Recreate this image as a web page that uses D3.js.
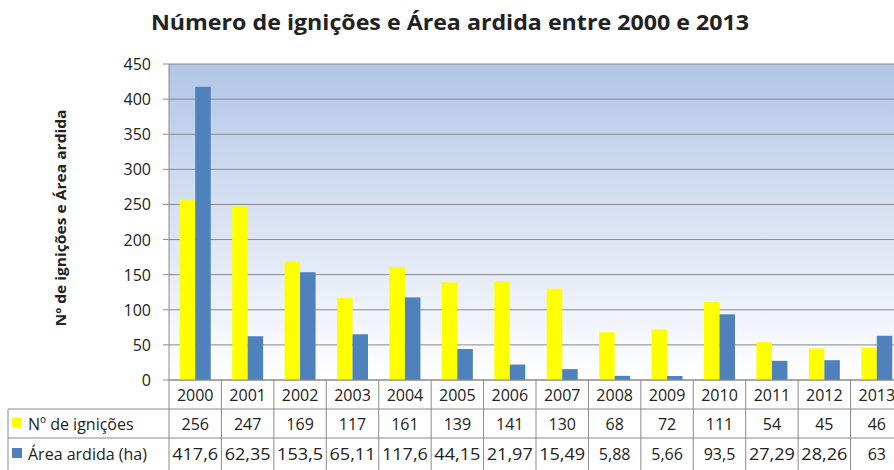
<!DOCTYPE html>
<html>
<head>
<meta charset="utf-8">
<script src="https://cdn.jsdelivr.net/npm/d3@7"></script>
<style>
  body { margin: 0; background: #fff; }
  text { font-family: "Open Sans", "Noto Sans", sans-serif; fill: #222; }
</style>
</head>
<body>
<svg></svg>
<script>
var years = ['2000','2001','2002','2003','2004','2005','2006','2007','2008','2009','2010','2011','2012','2013'];
var ignicoes = [256, 247, 169, 117, 161, 139, 141, 130, 68, 72, 111, 54, 45, 46];
var area = [417.6, 62.35, 153.5, 65.11, 117.6, 44.15, 21.97, 15.49, 5.88, 5.66, 93.5, 27.29, 28.26, 63];
var yTicks = [0, 50, 100, 150, 200, 250, 300, 350, 400, 450];
var seriesNames = ['Nº de ignições', 'Área ardida (ha)'];
var seriesColors = ['#ffff00', '#4f81bd'];

var W = 894, H = 470;
var svg = d3.select('svg').attr('width', W).attr('height', H);

var plotLeft = 169, plotRight = 903, plotTop = 64, plotBottom = 380;
function fmt(v) { return String(v).replace('.', ','); }

var x = d3.scaleBand().domain(years).range([plotLeft, plotRight]);
var y = d3.scaleLinear().domain([0, 450]).range([plotBottom, plotTop]);

var defs = svg.append('defs');
var grad = defs.append('linearGradient').attr('id', 'bg')
    .attr('x1', 0).attr('y1', 0).attr('x2', 0).attr('y2', 1);
grad.append('stop').attr('offset', '0%').attr('stop-color', '#b3c6e7');
grad.append('stop').attr('offset', '100%').attr('stop-color', '#ffffff');

svg.append('rect')
    .attr('x', plotLeft).attr('y', plotTop)
    .attr('width', plotRight - plotLeft).attr('height', plotBottom - plotTop)
    .attr('fill', 'url(#bg)');

// grid
svg.selectAll('.grid').data(yTicks).enter().append('line')
    .attr('x1', plotLeft - 6).attr('x2', plotRight)
    .attr('y1', function(d) { return y(d); }).attr('y2', function(d) { return y(d); })
    .attr('stroke', '#8a8a8a').attr('stroke-width', 1);

svg.append('line').attr('x1', plotLeft).attr('x2', plotLeft).attr('y1', plotTop).attr('y2', plotBottom)
    .attr('stroke', '#8a8a8a');

svg.selectAll('.ytick').data(yTicks).enter().append('text')
    .attr('x', 151).attr('y', function(d) { return y(d) + 6; })
    .attr('text-anchor', 'end').attr('font-size', 16)
    .text(function(d) { return d; });

// bars
var bw = 15.5;
var series = [ignicoes, area];
series.forEach(function(vals, si) {
    svg.selectAll('.bar' + si).data(vals).enter().append('rect')
        .attr('x', function(d, i) { return x(years[i]) + x.bandwidth() / 2 - bw + si * bw; })
        .attr('y', function(d) { return y(d); })
        .attr('width', bw)
        .attr('height', function(d) { return plotBottom - y(d); })
        .attr('fill', seriesColors[si]);
});

// title
svg.append('text')
    .attr('x', 450).attr('y', 30)
    .attr('text-anchor', 'middle')
    .attr('font-size', 21).attr('font-weight', 'bold')
    .attr('textLength', 598).attr('lengthAdjust', 'spacingAndGlyphs')
    .text('Número de ignições e Área ardida entre 2000 e 2013');

// y label
svg.append('text')
    .attr('transform', 'translate(66,218) rotate(-90)')
    .attr('text-anchor', 'middle')
    .attr('font-size', 14).attr('font-weight', 'bold')
    .attr('textLength', 217).attr('lengthAdjust', 'spacingAndGlyphs')
    .text('Nº de ignições  e Área ardida');

// data table
var rowH = [380, 409, 438, 470];
var tableLeft = 8;
var g = svg.append('g');
g.append('line').attr('x1', plotLeft).attr('x2', plotRight).attr('y1', rowH[0]).attr('y2', rowH[0]).attr('stroke', '#8a8a8a');
[1, 2].forEach(function(r) {
    g.append('line').attr('x1', tableLeft).attr('x2', plotRight).attr('y1', rowH[r]).attr('y2', rowH[r]).attr('stroke', '#8a8a8a');
});
g.append('line').attr('x1', tableLeft).attr('x2', tableLeft).attr('y1', rowH[1]).attr('y2', H).attr('stroke', '#8a8a8a');
g.append('line').attr('x1', plotLeft).attr('x2', plotLeft).attr('y1', rowH[0]).attr('y2', H).attr('stroke', '#8a8a8a');
g.selectAll('.vl').data(years).enter().append('line')
    .attr('x1', function(d) { return x(d) + x.bandwidth(); })
    .attr('x2', function(d) { return x(d) + x.bandwidth(); })
    .attr('y1', rowH[0]).attr('y2', H).attr('stroke', '#8a8a8a');

g.selectAll('.yr').data(years).enter().append('text')
    .attr('x', function(d) { return x(d) + x.bandwidth() / 2; })
    .attr('y', 401).attr('text-anchor', 'middle').attr('font-size', 16)
    .text(function(d) { return d; });

series.forEach(function(vals, si) {
    var cy = (rowH[si + 1] + rowH[si + 2]) / 2 + 6;
    g.selectAll('.cell' + si).data(vals).enter().append('text')
        .attr('x', function(d, i) { return x(years[i]) + x.bandwidth() / 2; })
        .attr('y', cy).attr('text-anchor', 'middle').attr('font-size', 16)
        .attr('textLength', function(d) { return fmt(d).length > 4 ? 46 : null; })
        .attr('lengthAdjust', 'spacingAndGlyphs')
        .text(function(d) { return fmt(d); });
    g.append('rect').attr('x', 12).attr('y', cy - 12).attr('width', 10).attr('height', 10)
        .attr('fill', seriesColors[si]);
    g.append('text').attr('x', 28).attr('y', cy).attr('font-size', 16)
        .text(seriesNames[si]);
});
</script>
</body>
</html>
